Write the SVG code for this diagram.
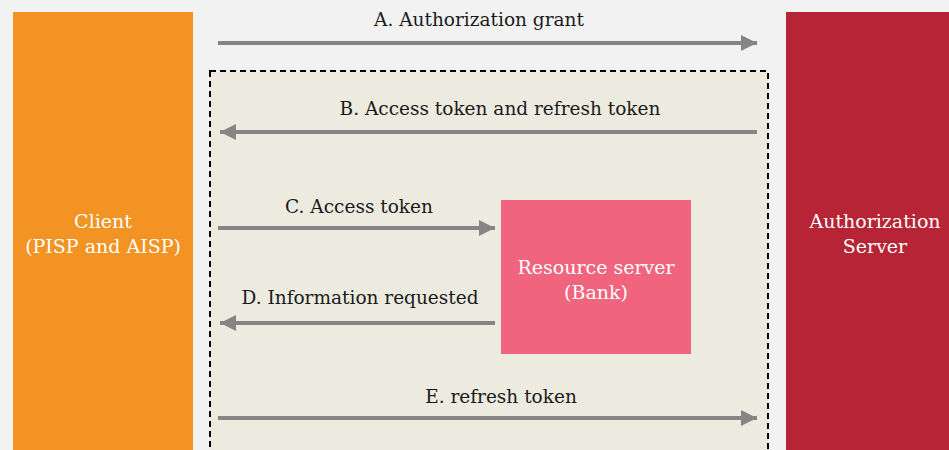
<svg xmlns="http://www.w3.org/2000/svg" width="949" height="450" viewBox="0 0 949 450">
  <defs>
    <style>
      text { font-family: 'DejaVu Serif', 'Liberation Serif', serif; font-size: 18.5px; text-anchor: middle; }
      .lbl { fill: #1a1a1a; }
      .nlbl { fill: #ffffff; font-size: 19px; }
      .flow { stroke: #858585; stroke-width: 4; fill: none; marker-end: url(#head); }
    </style>
    <marker id="head" viewBox="0 0 10 10" refX="10" refY="5" markerUnits="userSpaceOnUse" markerWidth="18" markerHeight="16" orient="auto">
      <path d="M0,0 L10,5 L0,10 z" fill="#858585"/>
    </marker>
  </defs>

  <rect x="0" y="0" width="949" height="450" fill="#f2f2f2"/>

  <!-- dashed trust boundary -->
  <g id="boundary">
    <rect x="210" y="71" width="558" height="400" fill="#edebe0" stroke="#000" stroke-width="2" stroke-dasharray="6,4"/>
  </g>

  <g id="client">
    <rect x="13" y="12" width="180" height="450" fill="#f39324"/>
    <text class="nlbl" x="103" y="228">Client</text>
    <text class="nlbl" x="103" y="253">(PISP and AISP)</text>
  </g>

  <g id="auth-server">
    <rect x="786" y="12" width="170" height="450" fill="#b72436"/>
    <text class="nlbl" x="875" y="228">Authorization</text>
    <text class="nlbl" x="875" y="253">Server</text>
  </g>

  <g id="resource-server">
    <rect x="501" y="200" width="190" height="154" fill="#f0647e"/>
    <text class="nlbl" x="596" y="274">Resource server</text>
    <text class="nlbl" x="596" y="299">(Bank)</text>
  </g>

  <g id="connectors">
    <line class="flow" x1="218" y1="43" x2="757" y2="43"/>
    <line class="flow" x1="757" y1="132" x2="220" y2="132"/>
    <line class="flow" x1="218" y1="228" x2="495" y2="228"/>
    <line class="flow" x1="495" y1="323" x2="220" y2="323"/>
    <line class="flow" x1="218" y1="418" x2="757" y2="418"/>
  </g>

  <g id="labels">
    <text class="lbl" x="479" y="26">A. Authorization grant</text>
    <text class="lbl" x="500" y="115">B. Access token and refresh token</text>
    <text class="lbl" x="359" y="213">C. Access token</text>
    <text class="lbl" x="360" y="304">D. Information requested</text>
    <text class="lbl" x="501" y="403">E. refresh token</text>
  </g>
</svg>
